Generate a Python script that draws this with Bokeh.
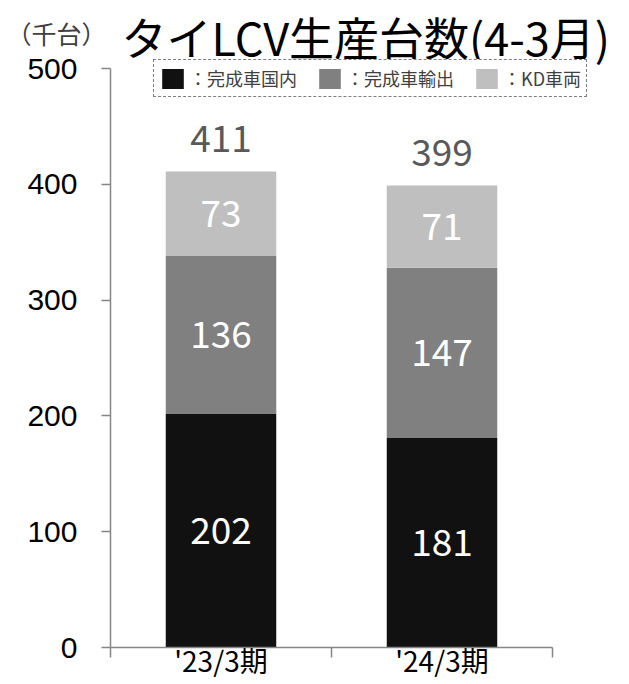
from bokeh.plotting import figure
from bokeh.models import ColumnDataSource, Range1d, FixedTicker, Label
from bokeh.core.properties import value
from bokeh.embed import file_html
from bokeh.resources import INLINE

# ---- data ----
categories = ["'23/3期", "'24/3期"]
domestic = [202, 181]
export = [136, 147]
kd = [73, 71]
series_names = ["：完成車国内", "：完成車輸出", "：KD車両"]
y_ticks = [0, 100, 200, 300, 400, 500]

# ---- styles / layout ----
colors = ["#111111", "#808080", "#bfbfbf"]
CJK_FONT = "Noto Sans CJK JP"
AXIS_COLOR = "#868686"
W, H = 629, 684
AX_LEFT, AX_RIGHT, AX_TOP, AX_BOTTOM = 110, 552, 68, 647   # pixel box of the axes

n = len(categories)
xs = [i + 0.5 for i in range(n)]
totals = [a + b + c for a, b, c in zip(domestic, export, kd)]
source = ColumnDataSource(dict(
    x=xs, domestic=domestic, export=export, kd=kd, total=totals,
    total_lbl=[str(t) for t in totals],
))

# ranges so that the full-canvas frame places the axes box where wanted
y0, y1 = y_ticks[0], y_ticks[-1]
ppu_y = (AX_BOTTOM - AX_TOP) / (y1 - y0)
ppu_x = (AX_RIGHT - AX_LEFT) / n
x_range = Range1d(-AX_LEFT / ppu_x, n + (W - AX_RIGHT) / ppu_x)
y_range = Range1d(y0 - (H - AX_BOTTOM) / ppu_y, y1 + AX_TOP / ppu_y)

p = figure(width=W, height=H, output_backend="svg", toolbar_location=None,
           x_range=x_range, y_range=y_range, min_border=0)
p.outline_line_color = None
p.xgrid.visible = False
p.ygrid.visible = False
p.background_fill_color = "white"
p.border_fill_color = "white"

p.vbar_stack(["domestic", "export", "kd"], x="x", width=0.5, color=colors,
             source=source, legend_label=series_names, line_color=None)

# segment labels
base = [0] * n
for vals in [domestic, export, kd]:
    mids = [b + v / 2 for b, v in zip(base, vals)]
    s = ColumnDataSource(dict(x=xs, y=mids, t=[str(v) for v in vals]))
    p.text(x="x", y="y", text="t", source=s, text_color="white", text_font=value(CJK_FONT),
           text_font_size="37px", text_align="center", text_baseline="middle")
    base = [b + v for b, v in zip(base, vals)]

# totals
p.text(x="x", y="total", text="total_lbl", source=source, text_color="#595959",
       text_font=value(CJK_FONT), text_font_size="37px", text_align="center",
       text_baseline="middle", y_offset=-33)

# y axis
yax = p.yaxis[0]
yax.fixed_location = 0
yax.bounds = (y0, y1)
yax.ticker = FixedTicker(ticks=y_ticks)
yax.minor_tick_line_color = None
yax.major_tick_in = 0
yax.major_tick_out = 9
yax.axis_line_color = AXIS_COLOR
yax.axis_line_width = 1.5
yax.major_tick_line_color = AXIS_COLOR
yax.major_tick_line_width = 1.5
yax.major_label_text_font = "Liberation Sans"
yax.major_label_text_font_size = "30px"
yax.major_label_text_color = "black"
yax.major_label_standoff = 24

# x axis
xax = p.xaxis[0]
xax.fixed_location = 0
xax.bounds = (0, n)
xax.ticker = FixedTicker(ticks=xs, minor_ticks=list(range(n + 1)))
xax.major_label_overrides = {x: c for x, c in zip(xs, categories)}
xax.major_tick_in = 0
xax.major_tick_out = 0
xax.minor_tick_in = 0
xax.minor_tick_out = 10
xax.axis_line_color = AXIS_COLOR
xax.axis_line_width = 1.5
xax.minor_tick_line_color = AXIS_COLOR
xax.minor_tick_line_width = 1.5
xax.major_label_text_font = CJK_FONT
xax.major_label_text_font_size = "28px"
xax.major_label_text_color = "black"
xax.major_label_standoff = -18

# legend
lg = p.legend[0]
lg.orientation = "horizontal"
lg.location = (153, H - 97)
lg.border_line_color = "black"
lg.border_line_dash = "6 3"
lg.border_line_width = 1.5
lg.background_fill_alpha = 1
lg.label_text_font = CJK_FONT
lg.label_text_font_size = "18px"
lg.label_text_color = "#404040"
lg.glyph_width = 27
lg.glyph_height = 25
lg.label_standoff = 3
lg.spacing = 19
lg.padding = 5
lg.margin = 0

# title and unit
p.add_layout(Label(x=121, y=H - 36, x_units="screen", y_units="screen", text="タイLCV生産台数(4-3月)",
                   text_font=CJK_FONT, text_font_size="45px", text_color="black",
                   text_baseline="middle", text_align="left"))
p.add_layout(Label(x=6, y=H - 32, x_units="screen", y_units="screen", text="（千台）",
                   text_font=CJK_FONT, text_font_size="25px", text_color="#404040",
                   text_baseline="middle", text_align="left"))

open("out.html", "w").write(file_html(p, INLINE))
